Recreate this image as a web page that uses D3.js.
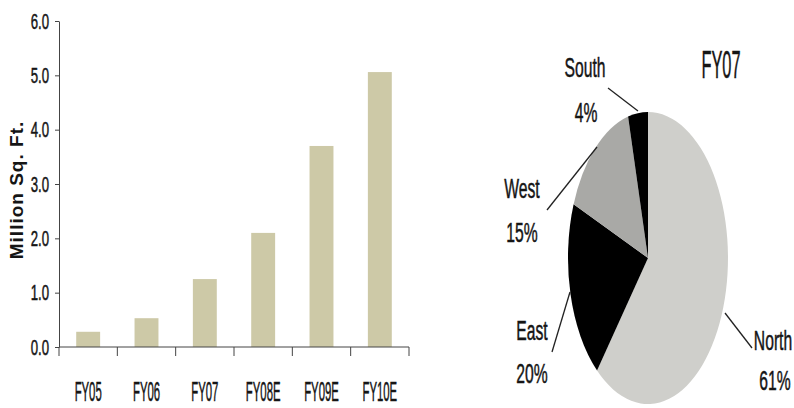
<!DOCTYPE html>
<html>
<head>
<meta charset="utf-8">
<script src="https://cdn.jsdelivr.net/npm/d3@7"></script>
<style>
  html, body { margin: 0; padding: 0; background: #fff; }
  svg { display: block; }
  text { font-family: "Liberation Sans", Arial, sans-serif; fill: #151515; }
  .heavy { stroke: #151515; stroke-width: 0.5; }
</style>
</head>
<body>
<svg id="chart" width="794" height="408"></svg>
<script>
// ---- data ----
const categories = ["FY05", "FY06", "FY07", "FY08E", "FY09E", "FY10E"];
const values = [0.28, 0.53, 1.25, 2.1, 3.7, 5.06];
const yTicks = [0, 1, 2, 3, 4, 5, 6];
const yTitle = "Million Sq. Ft.";

const regions = ["North", "East", "West", "South"];
const shares = [61, 20, 15, 4];
const pieTitle = "FY07";

// ---- layout ----
const svg = d3.select("#chart");
const x = d3.scaleBand().domain(categories).range([59, 409]).paddingInner(0.59).paddingOuter(0.295);
const y = d3.scaleLinear().domain([0, 6]).range([347, 21]);

// bars
svg.append("g").selectAll("rect").data(values).join("rect")
  .attr("x", (d, i) => x(categories[i]))
  .attr("y", d => y(d))
  .attr("width", x.bandwidth())
  .attr("height", d => y(0) - y(d))
  .attr("fill", "#cdc9a7");

// y axis
const yAxis = svg.append("g").attr("transform", "translate(59,0)")
  .call(d3.axisLeft(y).tickValues(yTicks).tickSize(4).tickSizeOuter(0).tickFormat(""));
yAxis.selectAll("path,line").attr("stroke", "#444");
svg.append("g").selectAll("text").data(yTicks).join("text")
  .attr("class", "heavy")
  .attr("transform", d => `translate(49,${y(d) + 7.5}) scale(0.6,1)`)
  .attr("text-anchor", "end")
  .attr("font-size", 22)
  .text(d => d3.format(".1f")(d));

// x axis line + boundary ticks
const x0 = x.range()[0], step = x.step();
svg.append("line").attr("x1", x0).attr("x2", x.range()[1]).attr("y1", y(0)).attr("y2", y(0))
  .attr("stroke", "#444");
svg.append("g").selectAll("line").data(d3.range(categories.length + 1)).join("line")
  .attr("x1", i => x0 + i * step).attr("x2", i => x0 + i * step)
  .attr("y1", y(0)).attr("y2", y(0) + 9)
  .attr("stroke", "#444");
svg.append("g").selectAll("text").data(categories).join("text")
  .attr("class", "heavy")
  .attr("transform", d => `translate(${x(d) + x.bandwidth() / 2},401) scale(0.42,1)`)
  .attr("text-anchor", "middle")
  .attr("font-size", 27)
  .text(d => d);

// y title
svg.append("text")
  .attr("transform", "translate(23,190) rotate(-90)")
  .attr("text-anchor", "middle")
  .attr("font-size", 19)
  .attr("font-weight", "bold")
  .attr("letter-spacing", 1)
  .text(yTitle);

// ---- pie ----
const pieColors = ["#cfcfcb", "#000000", "#a9a9a6", "#000000"];
const pie = d3.pie().sort(null)(shares);
const arc = d3.arc().innerRadius(0).outerRadius(1);
svg.append("g").attr("transform", "translate(648,258) scale(80,146)")
  .selectAll("path").data(pie).join("path")
  .attr("d", arc)
  .attr("fill", (d, i) => pieColors[i]);

// pie title
svg.append("text")
  .attr("class", "heavy")
  .attr("transform", "translate(721,78) scale(0.42,1)")
  .attr("text-anchor", "middle")
  .attr("font-size", 39)
  .text(pieTitle);

// labels
const labelPos = [
  { name: [773, 350], pct: [775, 390], line: [[725, 313], [752, 348]] },
  { name: [532, 340], pct: [532, 383], line: [[570, 292], [552, 352]] },
  { name: [522, 198], pct: [522, 242], line: [[597, 147], [547, 210]] },
  { name: [585, 77],  pct: [586, 122], line: [[638, 111], [608, 88]] }
];
const lg = svg.append("g");
regions.forEach((r, i) => {
  const p = labelPos[i];
  lg.append("text")
    .attr("class", "heavy")
    .attr("transform", `translate(${p.name[0]},${p.name[1]}) scale(0.58,1)`)
    .attr("text-anchor", "middle").attr("font-size", 27).text(r);
  lg.append("text")
    .attr("class", "heavy")
    .attr("transform", `translate(${p.pct[0]},${p.pct[1]}) scale(0.58,1)`)
    .attr("text-anchor", "middle").attr("font-size", 27).text(shares[i] + "%");
  lg.append("line")
    .attr("x1", p.line[0][0]).attr("y1", p.line[0][1])
    .attr("x2", p.line[1][0]).attr("y2", p.line[1][1])
    .attr("stroke", "#222").attr("stroke-width", 1.3);
});
</script>
</body>
</html>
